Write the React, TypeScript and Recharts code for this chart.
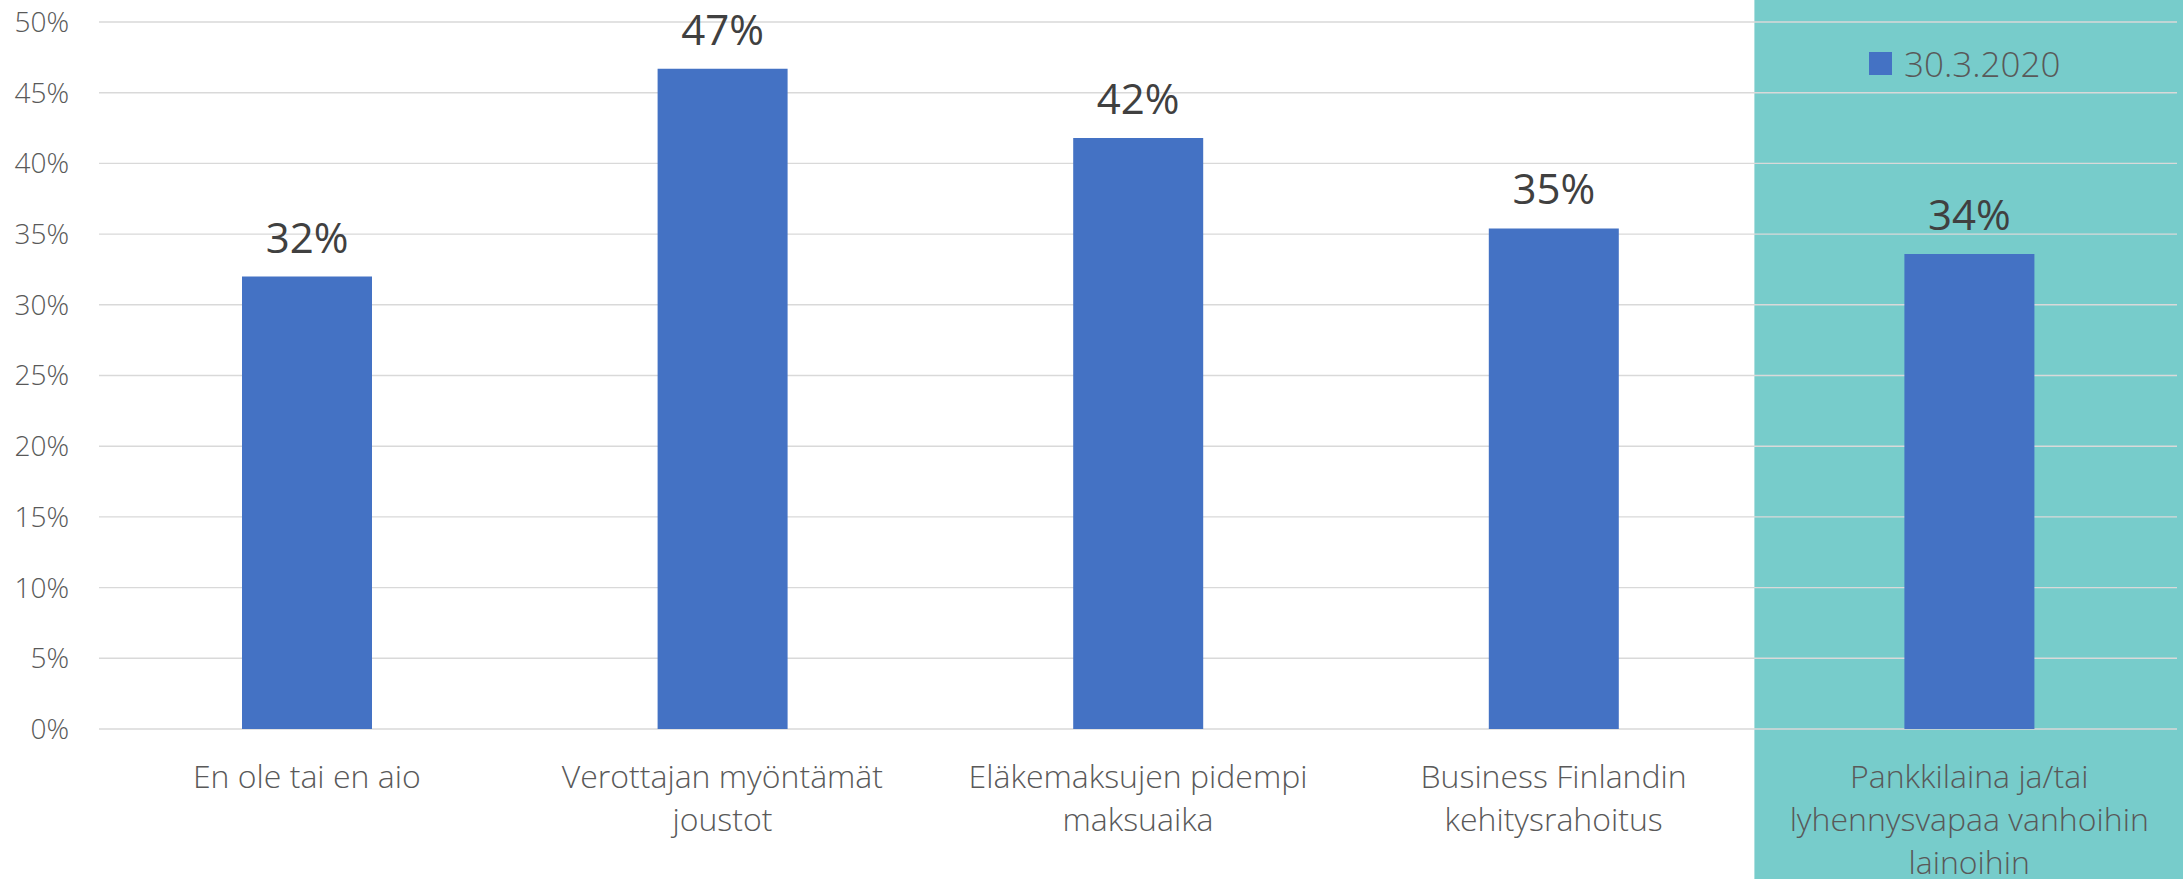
import React from "react";
import {
  BarChart,
  Bar,
  XAxis,
  YAxis,
  CartesianGrid,
  LabelList,
  Legend,
  ReferenceArea,
} from "recharts";

// ---- data ----
const categories = [
  "En ole tai en aio",
  "Verottajan myöntämät joustot",
  "Eläkemaksujen pidempi maksuaika",
  "Business Finlandin kehitysrahoitus",
  "Pankkilaina ja/tai lyhennysvapaa vanhoihin lainoihin",
];
const tickLabelLines = [
  ["En ole tai en aio"],
  ["Verottajan myöntämät", "joustot"],
  ["Eläkemaksujen pidempi", "maksuaika"],
  ["Business Finlandin", "kehitysrahoitus"],
  ["Pankkilaina ja/tai", "lyhennysvapaa vanhoihin", "lainoihin"],
];
const seriesName = "30.3.2020";
const values = [32.0, 46.7, 41.8, 35.4, 33.6];
const yTicks = [0, 5, 10, 15, 20, 25, 30, 35, 40, 45, 50];
const highlightedCategory = categories[4];

const data = categories.map((c, i) => ({ category: c, value: values[i] }));

// ---- style ----
const CHART_W = 2183;
const CHART_H = 879;
const BAR_COLOR = "#4472C4";
const TEAL = "#77CCCB";
const GRID = "#D9D9D9";
const AXIS_TEXT = "#595959";
const FONT = "'Open Sans', 'Noto Sans', sans-serif";

const CategoryTick = (props: any) => {
  const { x, y, payload } = props;
  const lines = tickLabelLines[payload.index] || [String(payload.value)];
  return (
    <text
      x={x}
      y={y}
      textAnchor="middle"
      fill={AXIS_TEXT}
      fontSize={32}
      fontWeight={300}
      fontFamily={FONT}
    >
      {lines.map((l: string, i: number) => (
        <tspan key={i} x={x} dy={i === 0 ? 59 : 43}>
          {l}
        </tspan>
      ))}
    </text>
  );
};

const HighlightShape = (props: any) => {
  const { x } = props;
  const left = x - 7;
  return <rect x={left} y={0} width={CHART_W - left} height={CHART_H} fill={TEAL} />;
};

const LegendContent = () => (
  <div style={{ display: "flex", alignItems: "center", fontFamily: FONT }}>
    <span
      style={{
        display: "inline-block",
        width: 23,
        height: 23,
        background: BAR_COLOR,
        marginRight: 12,
      }}
    />
    <span style={{ fontSize: 35, lineHeight: 1, color: AXIS_TEXT, fontWeight: 300 }}>
      {seriesName}
    </span>
  </div>
);

export default function App() {
  return (
    <div
      style={{
        position: "absolute",
        left: 0,
        top: 0,
        width: CHART_W,
        height: CHART_H,
        background: "#FFFFFF",
        fontFamily: FONT,
      }}
    >
      <BarChart
        width={CHART_W}
        height={CHART_H}
        data={data}
        margin={{ top: 22, right: 6, bottom: 0, left: 0 }}
      >
        <ReferenceArea
          x1={highlightedCategory}
          x2={highlightedCategory}
          shape={HighlightShape}
          zIndex={-200}
          ifOverflow="visible"
        />
        <CartesianGrid vertical={false} stroke={GRID} strokeWidth={1.4} />
        <XAxis
          dataKey="category"
          height={150}
          tickSize={0}
          tickMargin={0}
          axisLine={false}
          tickLine={false}
          interval={0}
          tick={<CategoryTick />}
        />
        <YAxis
          width={99}
          domain={[0, 50]}
          ticks={yTicks}
          tickFormatter={(v: number) => `${v}%`}
          axisLine={false}
          tickLine={false}
          tickSize={0}
          tickMargin={30}
          tick={{ fill: AXIS_TEXT, fontSize: 28, fontWeight: 300, fontFamily: FONT }}
        />
        <Legend
          layout="horizontal"
          verticalAlign="middle"
          align="center"
          wrapperStyle={{ top: 46, left: 1869, width: "auto", height: "auto" }}
          content={LegendContent}
        />
        <Bar
          dataKey="value"
          name={seriesName}
          fill={BAR_COLOR}
          barSize={130}
          isAnimationActive={false}
        >
          <LabelList
            dataKey="value"
            position="top"
            offset={24}
            formatter={(v: any) => `${Math.round(Number(v))}%`}
            fill="#404040"
            fontSize={42}
            fontFamily={FONT}
          />
        </Bar>
      </BarChart>
    </div>
  );
}
